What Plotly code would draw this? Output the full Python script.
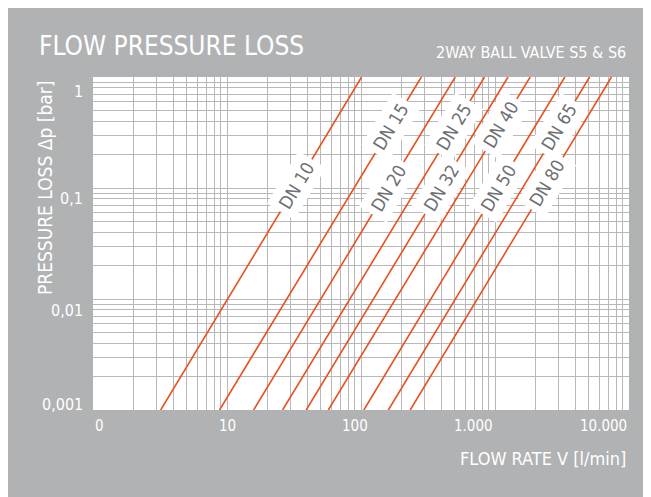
import plotly.graph_objects as go
import numpy as np

# ---- data ----
dn_names = ["DN 10", "DN 15", "DN 20", "DN 25", "DN 32", "DN 40", "DN 50", "DN 65", "DN 80"]
flow_at_dp_min = [3.2, 8.8, 15.8, 26, 39, 57, 105, 160, 233]          # l/min at 0.001 bar
flow_at_dp_max = [101, 282, 505, 835, 1250, 1830, 3320, 5080, 7400]    # l/min at 1 bar
dp_min, dp_max = 0.001, 1.0
label_dp = [0.106, 0.355, 0.1, 0.355, 0.1, 0.37, 0.1, 0.355, 0.111]   # bar, where label sits

x_tick_vals = [1, 10, 100, 1000, 10000]
x_tick_text = ["0", "10", "100", "1.000", "10.000"]
y_tick_vals = [0.001, 0.01, 0.1, 1]
y_tick_text = ["0,001", "0,01", "0,1", "1"]

title = "FLOW PRESSURE LOSS"
subtitle = "2WAY BALL VALVE S5 & S6"
x_title = "FLOW RATE V [l/min]"
y_title = "PRESSURE LOSS Δp [bar]"

# ---- style ----
GRAY = "#b1b2b4"
GRID = "#b8b8b8"
LINE = "#e8511f"
LABEL = "#6f7072"
FONT = "DejaVu Sans Condensed, Roboto, sans-serif"

# page body has an 8px margin, so the figure starts at (8, 8) of the window
OFF = 8
W, H = 651 - OFF, 497 - OFF
PX0, PX1, PY0, PY1 = 93, 629, 77, 410   # plot area in window pixels
ML, MR, MT, MB = PX0 - OFF, W - (PX1 - OFF), PY0 - OFF, H - (PY1 - OFF)

def px_x(p):
    return (p - PX0) / (PX1 - PX0)

def px_y(p):
    return (PY1 - p) / (PY1 - PY0)

fig = go.Figure()
for name, q0, q1 in zip(dn_names, flow_at_dp_min, flow_at_dp_max):
    fig.add_trace(go.Scatter(x=[q0, q1], y=[dp_min, dp_max], mode="lines",
                             line=dict(color=LINE, width=1.6), name=name,
                             hoverinfo="name", showlegend=False))

annotations = []
# line labels
for name, q0, q1, dp in zip(dn_names, flow_at_dp_min, flow_at_dp_max, label_dp):
    t = (np.log10(dp) - np.log10(dp_min)) / (np.log10(dp_max) - np.log10(dp_min))
    lq = np.log10(q0) + t * (np.log10(q1) - np.log10(q0))
    annotations.append(dict(x=lq, y=np.log10(dp), xref="x", yref="y", text=name,
                            showarrow=False, textangle=-59, bgcolor="white",
                            borderpad=5, font=dict(family=FONT, size=18, color=LABEL)))

# x tick labels
x_anchor = ["left", "center", "center", "right", "right"]
x_shift = [0, 0, -6, 0, 0]
for v, t, a, s in zip(x_tick_vals, x_tick_text, x_anchor, x_shift):
    annotations.append(dict(x=np.log10(v), y=0, xref="x", yref="paper", text=t,
                            showarrow=False, xanchor=a, yanchor="middle", xshift=s,
                            yshift=-16, font=dict(family=FONT, size=15, color="white")))
# y tick labels
y_shift = [6, -11, -10, -14]
for v, t, s in zip(y_tick_vals, y_tick_text, y_shift):
    annotations.append(dict(x=0, y=np.log10(v), xref="paper", yref="y", text=t,
                            showarrow=False, xanchor="right", yanchor="middle",
                            xshift=-8, yshift=s,
                            font=dict(family=FONT, size=16, color="white")))

annotations += [
    dict(x=px_x(37), y=px_y(46), xref="paper", yref="paper", text=title, showarrow=False,
         xanchor="left", yanchor="middle", font=dict(family=FONT, size=26, color="white")),
    dict(x=px_x(628), y=px_y(52), xref="paper", yref="paper", text=subtitle, showarrow=False,
         xanchor="right", yanchor="middle", font=dict(family=FONT, size=16, color="white")),
    dict(x=px_x(628), y=px_y(458), xref="paper", yref="paper", text=x_title, showarrow=False,
         xanchor="right", yanchor="middle", font=dict(family=FONT, size=18, color="white")),
    dict(x=px_x(45), y=px_y(79), xref="paper", yref="paper", text=y_title, showarrow=False,
         textangle=-90, xanchor="center", yanchor="top",
         font=dict(family=FONT, size=19, color="white")),
]

axis_common = dict(type="log", dtick=1, showgrid=True, gridcolor=GRID, gridwidth=1,
                   showticklabels=False, ticks="", zeroline=False, showline=False,
                   minor=dict(dtick="D1", showgrid=True, gridcolor=GRID, gridwidth=1, ticks=""))

fig.update_layout(
    width=W, height=H,
    margin=dict(l=ML, r=MR, t=MT, b=MB, pad=0),
    paper_bgcolor=GRAY, plot_bgcolor="white",
    xaxis=dict(range=[0, 4], **axis_common),
    yaxis=dict(range=[-3, 0], **axis_common),
    annotations=annotations,
    showlegend=False,
)

fig.write_html("out.html")
